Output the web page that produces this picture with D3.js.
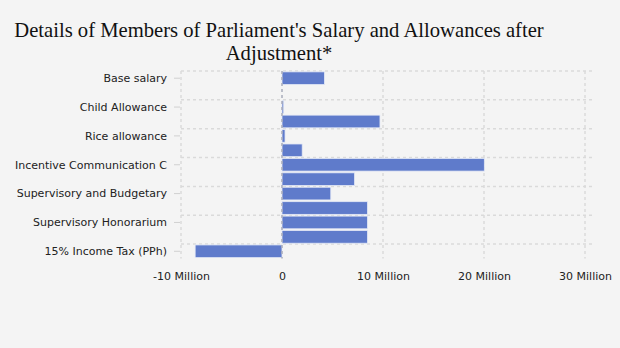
<!DOCTYPE html>
<html><head><meta charset="utf-8">
<script src="https://cdn.jsdelivr.net/npm/d3@7"></script>
<style>
body{margin:0;background:#f4f4f4;}
svg{display:block;}
</style></head>
<body>
<svg id="c" width="620" height="348"></svg>
<script>
const titleLines = ["Details of Members of Parliament's Salary and Allowances after", "Adjustment*"];
const categories = [
  "Base salary", "Spouse Allowance", "Child Allowance", "Position Allowance",
  "Rice allowance", "Session Allowance", "Incentive Communication C", "Honorary Allowance",
  "Supervisory and Budgetary", "Legislative Honorarium", "Supervisory Honorarium", "Budgeting Honorarium",
  "15% Income Tax (PPh)"
];
const values = [4200000, 0, 168000, 9700000, 300000, 2000000, 20033000, 7187000, 4830000, 8461000, 8461000, 8461000, -8600000];
const xTicks = [-10000000, 0, 10000000, 20000000, 30000000];
const xTickLabels = ["-10 Million", "0", "10 Million", "20 Million", "30 Million"];

(function () {
const svg = d3.select("#c");
const W = 620, H = 348;
const pLeft = 181, pRight = 585, pTop = 71, pBottom = 258.5;

svg.append("rect").attr("width", W).attr("height", H).attr("fill", "#f4f4f4");

const x = d3.scaleLinear().domain([-10000000, 30000000]).range([pLeft, pRight]);
const y = d3.scaleBand().domain(categories).range([pTop, pBottom]).paddingInner(0.12).paddingOuter(0.06);

// title
const t = svg.append("text").attr("font-family", "'Liberation Serif', 'Times New Roman', serif")
  .attr("font-size", 22).attr("fill", "#111").attr("text-anchor", "middle");
const spans = titleLines.map((s, i) => t.append("tspan").attr("x", 279).attr("y", 37 + i * 23).text(s));
const w0 = spans[0].node().getComputedTextLength();
const fs = 22 * 530 / w0;
t.attr("font-size", Math.min(fs, 24));

// horizontal grid lines at top of labeled bands
const step = (pBottom - pTop) / categories.length;
const g = svg.append("g");
categories.forEach((c, i) => {
  if (i % 2 === 0) {
    const yy = pTop + i * step;
    g.append("line").attr("x1", pLeft).attr("x2", pRight + 10).attr("y1", yy).attr("y2", yy)
      .attr("stroke", "#dadada").attr("stroke-width", 1.5).attr("stroke-dasharray", "3,3");
  }
});
// vertical grid lines
xTicks.forEach(v => {
  if (v === 0) return;
  g.append("line").attr("x1", x(v)).attr("x2", x(v)).attr("y1", pTop).attr("y2", pBottom)
    .attr("stroke", "#dadada").attr("stroke-width", 1.5).attr("stroke-dasharray", "3,3");
});

// bars
svg.append("g").selectAll("rect").data(categories).join("rect")
  .attr("x", (c, i) => x(Math.min(0, values[i])))
  .attr("width", (c, i) => Math.abs(x(values[i]) - x(0)))
  .attr("y", c => y(c))
  .attr("height", y.bandwidth())
  .attr("fill", "#5f7bcb")
  .attr("stroke", "#e4e9f6").attr("stroke-width", 0.8)
  .attr("display", (c, i) => values[i] === 0 ? "none" : null);

// zero line
svg.append("line").attr("x1", x(0)).attr("x2", x(0)).attr("y1", pTop).attr("y2", pBottom)
  .attr("stroke", "#a8acbb").attr("stroke-width", 1.5).attr("stroke-dasharray", "3,3");

// y axis labels
const ya = svg.append("g");
categories.forEach((c, i) => {
  if (i % 2 !== 0) return;
  const yy = y(c) + y.bandwidth() / 2;
  ya.append("line").attr("x1", pLeft - 7).attr("x2", pLeft - 1).attr("y1", yy).attr("y2", yy)
    .attr("stroke", "#d0d0d0").attr("stroke-width", 1);
  ya.append("text").attr("x", 167).attr("y", yy).attr("dy", "0.35em").attr("text-anchor", "end")
    .attr("font-family", "'DejaVu Sans', Verdana, sans-serif").attr("font-size", 11).attr("fill", "#222").text(c);
});

// x axis labels
const xa = d3.axisBottom(x).tickValues(xTicks).tickFormat((d, i) => xTickLabels[i]).tickSize(0).tickPadding(0);
const xg = svg.append("g").attr("transform", `translate(0,${272})`).call(xa);
xg.select(".domain").remove();
xg.selectAll("text").attr("font-family", "'DejaVu Sans', Verdana, sans-serif").attr("font-size", 11).attr("fill", "#222").attr("dy", "0.35em").attr("y", 4);
})();
</script>
</body></html>
